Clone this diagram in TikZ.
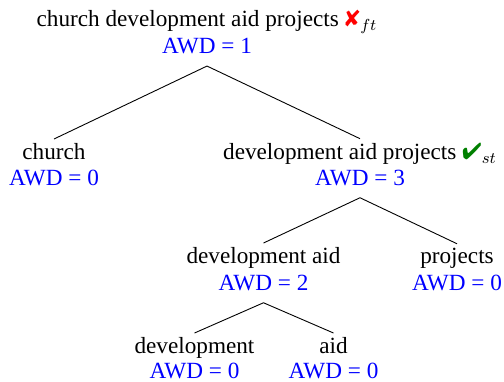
\documentclass[tikz,border=0pt]{standalone}
\usepackage{fontspec}
\setmainfont{Liberation Serif}
\usepackage{pifont}
\definecolor{awdblue}{rgb}{0,0,1}
\definecolor{okgreen}{rgb}{0,0.5,0}
\newcommand{\mycross}{\textcolor{red}{\ding{56}}}
\newcommand{\mycheck}{\textcolor{okgreen}{\ding{52}}}
\begin{document}
\begin{tikzpicture}[x=0.5pt,y=-0.5pt,
  word/.style={anchor=base,inner xsep=0pt,inner ysep=2pt,font=\fontsize{11.6}{13}\selectfont},
  awd/.style={anchor=base,inner xsep=0pt,inner ysep=6pt,text=awdblue,font=\fontsize{11.6}{13}\selectfont},
  edge/.style={draw=black,line width=0.45pt}]
\useasboundingbox (0,0) rectangle (504,381);
% level 0
\node[word] (t) at (207,26.7) {church development aid projects \mycross$_{ft}$};
\node[awd] (ta) at (207,53.3) {AWD = 1};
% level 1
\node[word] (c) at (54,159.5) {church};
\node[awd] (ca) at (54,185) {AWD = 0};
\node[word] (dap) at (360,159.5) {development aid projects \mycheck$_{st}$};
\node[awd] (dapa) at (360,185) {AWD = 3};
% level 2
\node[word] (da) at (263.5,263.5) {development aid};
\node[awd] (daa) at (263.5,290) {AWD = 2};
\node[word] (p) at (457,263.5) {projects};
\node[awd] (pa) at (457,290) {AWD = 0};
% level 3
\node[word] (d) at (194.5,353.5) {development};
\node[awd] (dd) at (194.5,378.5) {AWD = 0};
\node[word] (a) at (333.5,353.5) {aid};
\node[awd] (aa) at (333.5,378.5) {AWD = 0};
% edges
\draw[edge] (c.north) -- (ta.south) -- (dap.north);
\draw[edge] (da.north) -- (dapa.south) -- (p.north);
\draw[edge] (d.north) -- (daa.south) -- (a.north);
\end{tikzpicture}
\end{document}
